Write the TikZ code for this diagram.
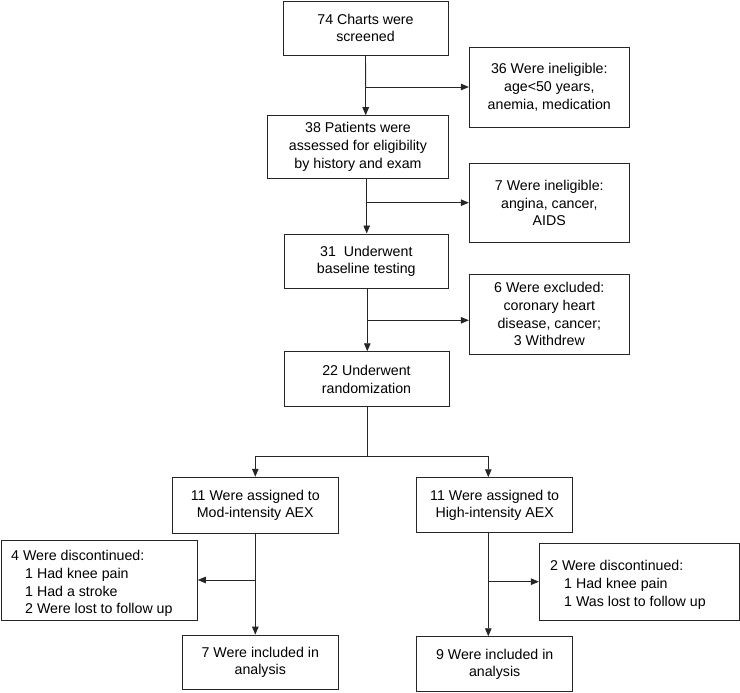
\documentclass[tikz,border=0pt]{standalone}
\usepackage{fontspec}
\setmainfont{Liberation Sans}
\usetikzlibrary{arrows.meta}
\begin{document}
\begin{tikzpicture}[x=1pt,y=-1pt,
  box/.style={draw=black!85, line width=0.9pt, align=center, inner sep=0pt,
    font=\fontsize{14.2}{17.7}\selectfont},
  ltext/.style={align=left, inner sep=0pt, anchor=west,
    font=\fontsize{14.2}{17.7}\selectfont},
  conn/.style={draw=black!85, line width=0.9pt},
  arr/.style={conn, -{Triangle[length=8pt,width=6.5pt]}}]
\useasboundingbox (0,0) rectangle (740,693);
% main column
\node[box, minimum width=165pt, minimum height=54pt] (n1) at (365.5,28) {74 Charts were\\screened};
\node[box, minimum width=160pt, minimum height=79.7pt] (e1) at (549.3,87.2) {36 Were ineligible:\\age<50 years,\\anemia, medication};
\node[box, minimum width=181.4pt, minimum height=62.6pt] (n2) at (358,147) {38 Patients were\\assessed for eligibility\\by history and exam};
\node[box, minimum width=160pt, minimum height=79.4pt] (e2) at (549.3,203) {7 Were ineligible:\\angina, cancer,\\AIDS};
\node[box, minimum width=164.7pt, minimum height=54.7pt] (n3) at (366.3,261.3) {31\ \ Underwent\\baseline testing};
\node[box, minimum width=160pt, minimum height=79.7pt] (e3) at (549.3,314.2) {6 Were excluded:\\coronary heart\\disease, cancer;\\3 Withdrew};
\node[box, minimum width=165pt, minimum height=55pt] (n4) at (366.5,379.2) {22 Underwent\\randomization};
% arms
\node[box, minimum width=165.3pt, minimum height=56pt] (n5) at (255.3,505.2) {11 Were assigned to\\Mod-intensity AEX};
\node[box, minimum width=156pt, minimum height=55pt] (n6) at (494.7,505.2) {11 Were assigned to\\High-intensity AEX};
\node[box, minimum width=196.3pt, minimum height=79.5pt] (d1) at (99.2,580.2) {};
\node[ltext] (d1t) at (11,583.5)
  {4 Were discontinued:\\\hspace*{14pt}1 Had knee pain\\\hspace*{14pt}1 Had a stroke\\\hspace*{14pt}2 Were lost to follow up};
\node[box, minimum width=200pt, minimum height=76.7pt] (d2) at (639.3,581.7) {};
\node[ltext] (d2t) at (550,585)
  {2 Were discontinued:\\\hspace*{14pt}1 Had knee pain\\\hspace*{14pt}1 Was lost to follow up};
\node[box, minimum width=155.3pt, minimum height=54.5pt] (a1) at (260.3,662.3) {7 Were included in\\analysis};
\node[box, minimum width=156pt, minimum height=55pt] (a2) at (494.7,664.2) {9 Were included in\\analysis};
% connectors
\coordinate (b1) at (365.7,87);
\draw[conn] (n1.south) -- (b1);
\draw[arr] (b1) -- (n2.north -| b1);
\draw[arr] (b1) -- (b1 -| e1.west);
\coordinate (b2) at (366.7,202.7);
\draw[conn] (n2.south -| b2) -- (b2);
\draw[arr] (b2) -- (n3.north -| b2);
\draw[arr] (b2) -- (b2 -| e2.west);
\coordinate (b3) at (367.3,320.3);
\draw[conn] (n3.south -| b3) -- (b3);
\draw[arr] (b3) -- (n4.north -| b3);
\draw[arr] (b3) -- (b3 -| e3.west);
\coordinate (sp) at (367.5,456);
\coordinate (sl) at (255.3,456);
\coordinate (sr) at (488.3,456);
\draw[conn] (n4.south -| sp) -- (sp);
\draw[conn] (sl) -- (sr);
\draw[arr] (sl) -- (n5.north -| sl);
\draw[arr] (sr) -- (n6.north -| sr);
\coordinate (bl) at (255.3,580);
\draw[conn] (n5.south -| bl) -- (bl);
\draw[arr] (bl) -- (a1.north -| bl);
\draw[arr] (bl) -- (bl -| d1.east);
\coordinate (br) at (488.3,581.7);
\draw[conn] (n6.south -| br) -- (br);
\draw[arr] (br) -- (a2.north -| br);
\draw[arr] (br) -- (br -| d2.west);
\end{tikzpicture}
\end{document}
